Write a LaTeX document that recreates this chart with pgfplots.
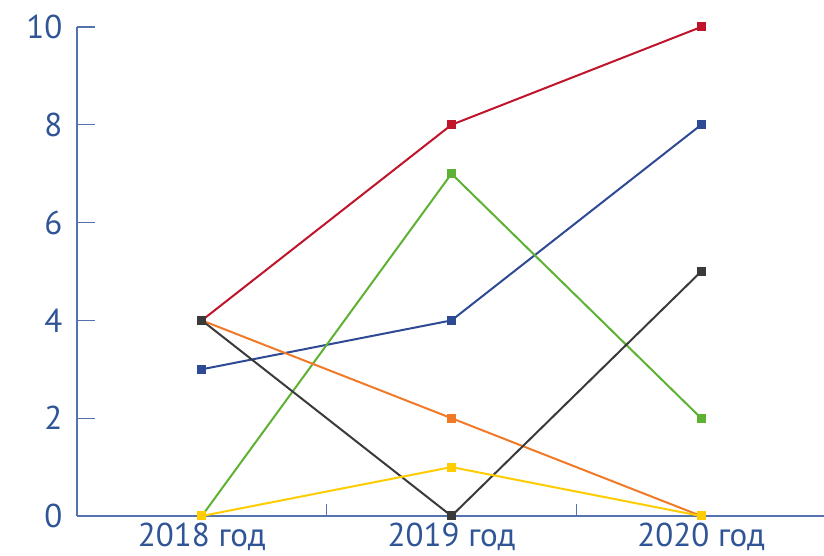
\documentclass[border=0pt]{standalone}
\usepackage{pgfplots}
\pgfplotsset{compat=1.18}
\usepackage{fontspec}
\setmainfont{PT Sans}
\definecolor{axisblue}{HTML}{5472AD}
\definecolor{labblue}{HTML}{2F5597}
\definecolor{sred}{HTML}{C0142A}
\definecolor{sblue}{HTML}{2E4A94}
\definecolor{sgreen}{HTML}{5DB233}
\definecolor{sblack}{HTML}{3A3A3A}
\definecolor{sorange}{HTML}{F07A28}
\definecolor{syellow}{HTML}{FFCC00}
\begin{document}
\begin{tikzpicture}
\begin{axis}[
  name=ax,
  scale only axis,
  width=749pt, height=489pt,
  xmin=-0.5, xmax=2.5, ymin=0, ymax=10,
  axis lines*=left,
  axis line style={axisblue, line width=1.2pt, -},
  xtick={0,1,2},
  xticklabels={2018 год,2019 год,2020 год},
  minor xtick={0.5,1.5},
  major x tick style={draw=none},
  minor x tick style={axisblue, line width=1.2pt},
  minor tick length=12pt,
  ytick={0,2,4,6,8,10},
  y tick style={axisblue, line width=1.2pt},
  major tick length=18pt,
  tick align=inside,
  ticklabel style={font=\fontsize{33}{36}\selectfont, text=labblue},
  /pgf/number format/assume math mode=true,
  yticklabel style={xshift=-11pt},
  xticklabel style={yshift=-3pt},
  clip=false,
  every axis plot/.append style={line width=2pt, mark=square*, mark size=3.5pt},
]
\addplot[sred, mark options={fill=sred}] coordinates {(0,4) (1,8) (2,10)};
\addplot[sblue, mark options={fill=sblue}] coordinates {(0,3) (1,4) (2,8)};
\addplot[sgreen, mark options={fill=sgreen}] coordinates {(0,0) (1,7) (2,2)};
\addplot[sorange, mark options={fill=sorange}] coordinates {(0,4) (1,2) (2,0)};
\addplot[sblack, mark options={fill=sblack}] coordinates {(0,4) (1,0) (2,5)};
\addplot[syellow, mark options={fill=syellow}] coordinates {(0,0) (1,1) (2,0)};
\end{axis}
\pgfresetboundingbox
\path[use as bounding box] ([shift={(-77pt,-40pt)}]ax.south west) rectangle ([shift={(747pt,516pt)}]ax.south west);
\end{tikzpicture}
\end{document}
